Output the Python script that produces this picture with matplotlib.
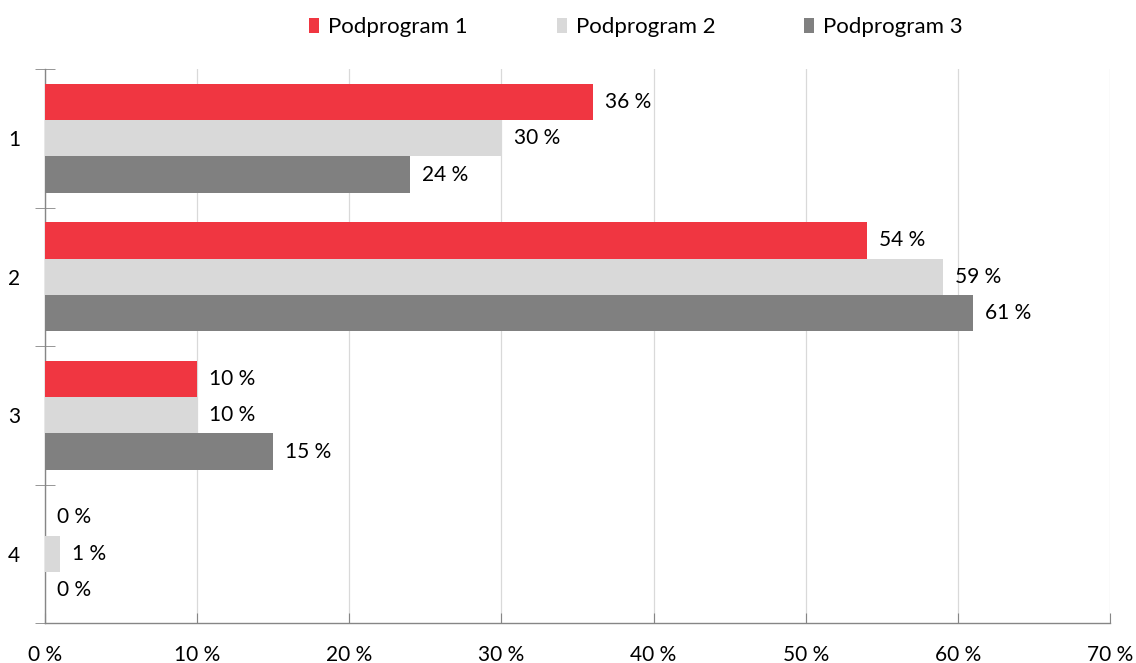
import matplotlib
matplotlib.use("Agg")
import matplotlib.pyplot as plt
import numpy as np
from matplotlib.patches import Patch

categories = ["1", "2", "3", "4"]
series_names = ["Podprogram 1", "Podprogram 2", "Podprogram 3"]
podprogram1 = [36, 54, 10, 0]
podprogram2 = [30, 59, 10, 1]
podprogram3 = [24, 61, 15, 0]
x_ticks = [0, 10, 20, 30, 40, 50, 60, 70]

colors = ["#F03641", "#D9D9D9", "#808080"]
plt.rcParams['font.family'] = ['Lato', 'DejaVu Sans']
FS = 15

fig = plt.figure(figsize=(11.36, 6.63), dpi=100)
ax = fig.add_axes([45/1136, 1-623/663, (1110-45)/1136, (623-69)/663])

values = [podprogram1, podprogram2, podprogram3]
n = len(categories)
y_center = np.arange(n)
bh = 0.263
for i, (vals, col) in enumerate(zip(values, colors)):
    ypos = y_center + (i - 1) * bh
    ax.barh(ypos, vals, height=bh, color=col, zorder=3)
    for y, v in zip(ypos, vals):
        ax.text(v + 0.8, y, f"{v} %", va='center', ha='left', fontsize=FS, color='black', zorder=4)

ax.set_xlim(0, 70)
ax.set_ylim(n - 0.5, -0.5)
ax.set_xticks(x_ticks)
ax.set_xticklabels([f"{t} %" for t in x_ticks], fontsize=FS)
ax.set_yticks(y_center)
ax.set_yticklabels(categories, fontsize=FS)
ax.set_yticks(np.arange(n + 1) - 0.5, minor=True)
ax.tick_params(axis='y', which='major', length=0, pad=18)
ax.tick_params(axis='y', which='minor', direction='inout', length=14, color='#868686')
ax.tick_params(axis='x', direction='in', length=7, color='#868686', pad=16)
ax.grid(axis='x', color='#D9D9D9', linewidth=0.9, zorder=0)
for s in ['top', 'right']:
    ax.spines[s].set_visible(False)
for s in ['left', 'bottom']:
    ax.spines[s].set_color('#868686')
    ax.spines[s].set_linewidth(1.0)

handles = [Patch(facecolor=c, edgecolor='none') for c in colors]
fig.legend(handles, series_names, loc='center', bbox_to_anchor=(636/1136, 1-27/663),
           ncol=3, frameon=False, fontsize=16, handlelength=0.45, handleheight=0.65,
           handletextpad=0.4, columnspacing=4.0)

fig.savefig("out.png", dpi=100)
